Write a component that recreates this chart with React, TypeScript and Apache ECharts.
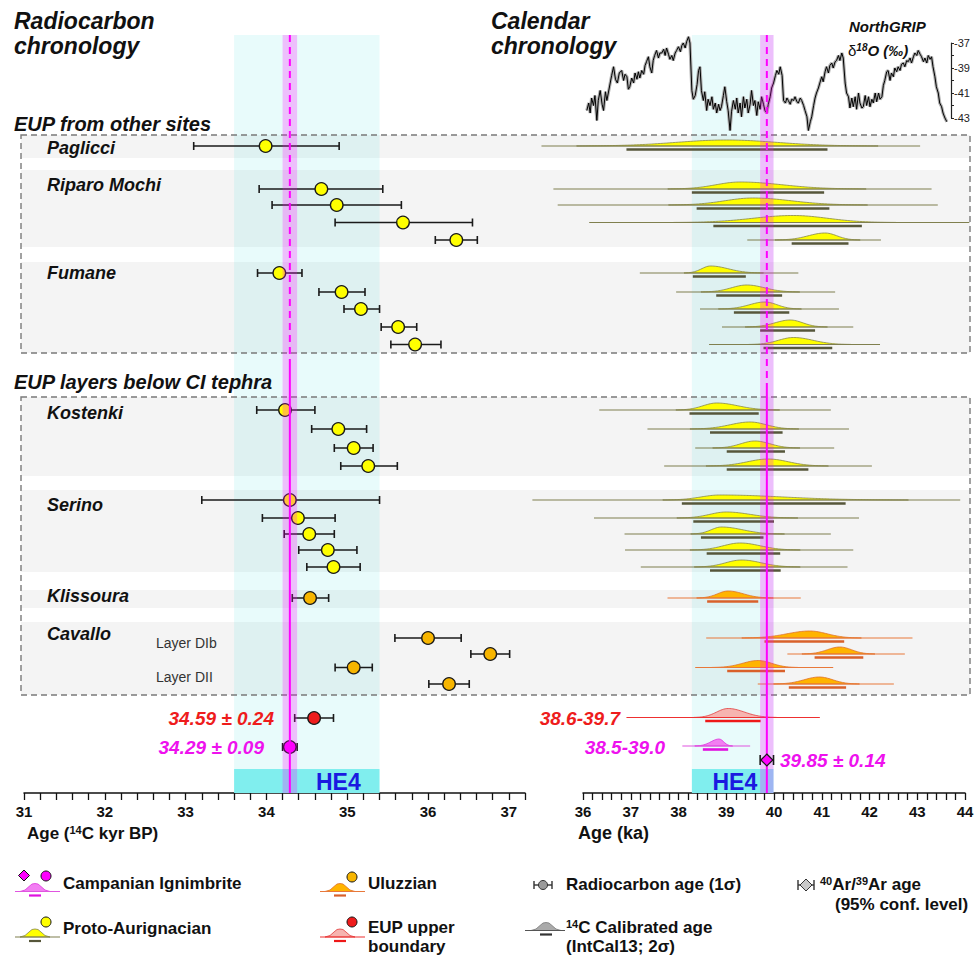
import React, { useEffect, useRef } from 'react';
import * as echarts from 'echarts';

const FONT = '"Liberation Sans", Arial, Helvetica, sans-serif';

// ---------------- Sites / sections ----------------
const sectionNames = ['EUP from other sites', 'EUP layers below CI tephra'];
const sectionTop = [135, 397];
const sectionBottom = [353, 695];
const sectionLabelY = [123.5, 381.5];

const siteNames = ['Paglicci', 'Riparo Mochi', 'Fumane', 'Kostenki', 'Serino', 'Klissoura', 'Cavallo'];
const siteBandTop = [135, 170, 262, 397, 490, 590, 622];
const siteBandBottom = [158, 247, 353, 476, 572, 608, 695];
const siteLabelY = [148, 185, 273, 413, 505, 596, 634];

const layerNames = ['Layer DIb', 'Layer DII'];
const layerLabelY = [643, 677];

// culture index: 0 Proto-Aurignacian, 1 Uluzzian, 2 EUP upper boundary, 3 Campanian Ignimbrite
const cultureNames = ['Proto-Aurignacian', 'Uluzzian', 'EUP upper boundary', 'Campanian Ignimbrite'];
const sampleCulture = [0, 0, 0, 0, 0, 0, 0, 0, 0, 0, 0, 0, 0, 0, 0, 0, 0, 0, 0, 1, 1, 1, 1, 1];
const sampleRow = [146, 189, 205, 222.5, 240, 273, 292, 309, 327, 344.5, 410, 429, 448, 466, 500, 518, 534, 550, 567, 598, 638, 654, 667.5, 684];

// ---------------- Radiocarbon ages (14C kyr BP, 1 sigma) ----------------
const rcMean = [33.99, 34.68, 34.87, 35.69, 36.35, 34.16, 34.93, 35.17, 35.63, 35.84, 34.23, 34.89, 35.08, 35.26, 34.29, 34.39, 34.53, 34.76, 34.83, 34.54, 36.0, 36.77, 35.08, 36.26];
const rcLow = [33.10, 33.91, 34.07, 34.85, 36.09, 33.89, 34.65, 34.96, 35.42, 35.54, 33.88, 34.56, 34.84, 34.92, 33.20, 33.95, 34.22, 34.40, 34.50, 34.32, 35.59, 36.53, 34.85, 36.01];
const rcHigh = [34.90, 35.44, 35.67, 36.55, 36.61, 34.44, 35.22, 35.40, 35.86, 36.16, 34.60, 35.24, 35.32, 35.62, 35.40, 34.85, 34.84, 35.12, 35.16, 34.77, 36.41, 37.01, 35.31, 36.51];

// ---------------- Calibrated ages (ka, IntCal13) ----------------
const calRangeLo = [35.13, 35.38, 35.47, 36.13, 39.44, 37.19, 37.95, 38.45, 38.91, 38.64, 36.34, 37.35, 38.35, 37.70, 34.94, 36.23, 36.87, 36.88, 37.21, 37.77, 38.58, 40.28, 38.35, 39.66];
const calRangeHi = [43.06, 43.30, 43.43, 44.09, 42.24, 40.51, 41.28, 41.36, 41.66, 42.22, 41.19, 41.57, 41.26, 42.05, 43.90, 41.78, 41.19, 41.66, 41.54, 40.56, 42.90, 42.74, 41.24, 42.51];
const cal2sLo = [36.91, 38.28, 38.38, 38.73, 40.37, 38.30, 38.79, 39.16, 39.71, 39.78, 38.23, 38.66, 39.01, 39.01, 38.07, 38.31, 38.47, 38.59, 38.66, 38.60, 39.80, 40.85, 39.02, 40.31];
const cal2sHi = [41.12, 41.05, 41.16, 41.84, 41.56, 39.41, 40.17, 40.32, 40.86, 41.22, 39.68, 40.18, 40.23, 40.72, 41.50, 40.00, 39.78, 40.13, 40.14, 39.67, 41.47, 41.87, 40.23, 41.51];
const calMode = [39.0, 39.29, 39.56, 40.40, 41.07, 38.67, 39.43, 39.81, 40.34, 40.41, 38.80, 39.50, 39.60, 39.88, 38.87, 39.0, 38.90, 39.29, 39.32, 39.04, 40.75, 41.38, 39.67, 40.95];
const calPeakHeight = [6, 7, 7, 7, 7, 7, 7, 7, 7, 7, 7, 7, 7, 7, 5, 6, 7, 7, 7, 7, 7, 7, 7, 7];

// ---------------- EUP upper boundary & Campanian Ignimbrite ----------------
const eupRc = [34.59, 0.24];           // mean, sd (14C kyr BP)
const eupCal = [36.91, 40.96, 38.56, 39.72, 39.04]; // range lo/hi, 2s lo/hi, mode (ka)
const eupRow = 718;
const ciRc = [34.29, 0.09];
const ciCal = [38.08, 39.50, 38.51, 39.04, 38.85];
const ciRow = 747;
const ciArAr = [39.85, 0.14];          // 40Ar/39Ar age (ka), 95% conf.
const ciArArRow = 760;

// ---------------- Heinrich Event 4 ----------------
const he4Radiocarbon = [33.6, 35.4];
const he4Calendar = [38.28, 39.99];
const he4LabelPos = [34.89, 39.18];

// ---------------- NorthGRIP d18O record: [age ka, d18O permil] ----------------
const ngripGI8 = [
  [36.08, -42.4], [36.12, -41.8], [36.15, -42.6], [36.18, -41.4], [36.22, -42.0], [36.25, -41.2], [36.29, -43.2], [36.32, -41.6],
  [36.36, -40.8], [36.40, -41.9], [36.43, -42.4], [36.47, -40.9], [36.50, -41.6], [36.53, -41.0], [36.57, -40.2], [36.60, -39.6],
  [36.64, -38.9], [36.68, -39.9], [36.72, -40.2], [36.76, -39.4], [36.81, -39.2], [36.85, -40.0], [36.88, -39.5], [36.92, -39.7],
  [36.95, -40.7], [36.98, -40.5], [37.02, -39.8], [37.06, -40.2], [37.09, -39.4], [37.13, -39.9], [37.16, -39.3], [37.19, -39.8],
  [37.23, -39.2], [37.27, -39.5], [37.30, -38.8], [37.33, -38.5], [37.37, -38.1], [37.40, -38.9], [37.44, -39.4], [37.47, -38.4],
  [37.50, -38.0], [37.54, -37.6], [37.58, -38.2], [37.61, -37.8], [37.65, -37.8], [37.69, -37.5], [37.72, -38.0], [37.75, -37.4],
  [37.79, -37.9], [37.82, -38.3], [37.86, -38.0], [37.89, -38.4], [37.93, -37.8], [37.96, -37.6], [38.00, -37.3], [38.04, -37.7],
  [38.07, -37.2], [38.10, -37.0], [38.14, -37.4], [38.17, -36.9], [38.21, -36.5], [38.24, -37.0],
];
const ngripGS9 = [
  [38.28, -40.8], [38.31, -41.5], [38.35, -41.2], [38.39, -40.3], [38.42, -39.2], [38.45, -38.9], [38.48, -40.8], [38.52, -41.6],
  [38.55, -40.9], [38.59, -42.4], [38.62, -41.5], [38.66, -42.0], [38.70, -41.3], [38.73, -42.3], [38.77, -41.8], [38.80, -42.6],
  [38.84, -41.9], [38.87, -42.4], [38.90, -42.1], [38.94, -41.2], [38.97, -40.5], [39.01, -41.7], [39.04, -42.4], [39.08, -44.0],
  [39.11, -42.5], [39.15, -41.6], [39.19, -42.3], [39.22, -41.4], [39.25, -42.6], [39.29, -41.8], [39.32, -42.9], [39.36, -41.3],
  [39.39, -42.2], [39.43, -41.5], [39.46, -42.6], [39.50, -41.9], [39.53, -40.8], [39.57, -42.0], [39.60, -41.6], [39.64, -42.8],
  [39.67, -41.7], [39.71, -42.3], [39.74, -41.3], [39.78, -41.9], [39.81, -42.4], [39.85, -42.6], [39.88, -41.9], [39.92, -41.3],
  [39.95, -40.6], [39.99, -40.2],
];
const ngripGI9toGI10 = [
  [40.03, -39.6], [40.06, -39.2], [40.10, -39.5], [40.13, -38.9], [40.17, -39.6], [40.20, -41.6], [40.24, -41.8], [40.27, -41.4],
  [40.30, -41.6], [40.34, -41.9], [40.37, -41.5], [40.41, -41.6], [40.44, -41.3], [40.48, -41.7], [40.51, -41.8], [40.55, -41.4],
  [40.58, -41.6], [40.62, -42.0], [40.65, -42.4], [40.69, -42.9], [40.72, -44.0], [40.76, -43.3], [40.79, -42.9], [40.83, -42.0],
  [40.86, -41.4], [40.89, -41.0], [40.93, -40.6], [40.96, -40.2], [41.00, -39.7], [41.03, -40.1], [41.07, -39.3], [41.10, -38.9],
  [41.14, -39.4], [41.17, -38.8], [41.21, -38.6], [41.24, -39.0], [41.28, -38.5], [41.31, -38.4], [41.35, -38.0], [41.38, -38.4],
  [41.42, -37.8], [41.45, -38.2], [41.49, -40.2],
];
const ngripGS10toEnd = [
  [41.52, -41.0], [41.56, -41.3], [41.59, -42.2], [41.63, -41.4], [41.66, -42.1], [41.70, -41.3], [41.73, -42.3], [41.77, -41.0],
  [41.80, -41.8], [41.84, -42.2], [41.87, -42.1], [41.91, -41.2], [41.94, -42.0], [41.98, -41.3], [42.01, -42.1], [42.05, -41.5],
  [42.08, -41.8], [42.12, -41.0], [42.15, -41.7], [42.19, -41.0], [42.22, -41.5], [42.26, -41.3], [42.29, -40.4], [42.32, -40.0],
  [42.36, -39.3], [42.39, -39.2], [42.43, -40.0], [42.46, -39.4], [42.50, -39.7], [42.53, -39.0], [42.57, -39.3], [42.60, -38.9],
  [42.64, -39.2], [42.67, -38.7], [42.71, -38.6], [42.74, -38.9], [42.78, -38.4], [42.81, -38.5], [42.85, -38.2], [42.88, -38.6],
  [42.92, -38.1], [42.95, -37.8], [42.99, -38.0], [43.02, -37.6], [43.06, -37.9], [43.09, -38.1], [43.13, -38.5], [43.16, -38.2],
  [43.20, -38.6], [43.23, -38.0], [43.27, -38.3], [43.30, -38.1], [43.33, -38.9], [43.37, -39.7], [43.40, -40.5], [43.44, -41.0],
  [43.47, -41.8], [43.51, -42.1], [43.54, -42.6], [43.58, -43.0], [43.62, -43.3],
];

// ---------------- styles ----------------
const cultureStyle = [
  { dot: '#ffff00', fill: '#ffff00', edge: '#85854a', line: '#7f7f4e', bar: '#56563a' },
  { dot: '#f7b500', fill: '#ffb400', edge: '#e0702a', line: '#e8783a', bar: '#d9602a' },
  { dot: '#ee1c1c', fill: '#f6b4b0', edge: '#e23a3a', line: '#ee3030', bar: '#ee1818' },
  { dot: '#ff00ff', fill: '#f27ef2', edge: '#dd33dd', line: '#e055e0', bar: '#e010e0' },
];
const BOX_L = 21;
const BOX_R = 970;
const BAND_TOP = 35;
const HE4_TOP = 769;
const AXIS_Y = 793;
const RED = '#ee1c1c';
const MAG = '#ee11ee';

const intLabel = (v: number) => (Math.abs(v - Math.round(v)) < 1e-6 ? String(Math.round(v)) : '');

function errRender(params: any, api: any) {
  const y = api.value(3);
  const m = api.coord([api.value(0), y]);
  const lo = api.coord([api.value(1), y]);
  const hi = api.coord([api.value(2), y]);
  const st = cultureStyle[api.value(4)];
  const s = { stroke: '#1a1a1a', lineWidth: 1.6 };
  return {
    type: 'group',
    children: [
      { type: 'line', shape: { x1: lo[0], y1: m[1], x2: hi[0], y2: m[1] }, style: s },
      { type: 'line', shape: { x1: lo[0], y1: m[1] - 4, x2: lo[0], y2: m[1] + 4 }, style: s },
      { type: 'line', shape: { x1: hi[0], y1: m[1] - 4, x2: hi[0], y2: m[1] + 4 }, style: s },
      { type: 'circle', shape: { cx: m[0], cy: m[1], r: 6.3 }, style: { fill: st.dot, stroke: '#1a1a1a', lineWidth: 1.3 } },
    ],
  };
}

function distRender(params: any, api: any) {
  const row = api.value(5);
  const st = cultureStyle[api.value(6)];
  const H = api.value(7);
  const a = api.coord([api.value(0), row]);
  const b = api.coord([api.value(1), row]);
  const c = api.coord([api.value(2), row]);
  const d = api.coord([api.value(3), row]);
  const pk = api.coord([api.value(4), row]);
  const y = a[1];
  const sL = Math.max((pk[0] - c[0]) / 2, 2);
  const sR = Math.max((d[0] - pk[0]) / 2, 2);
  const x0 = Math.max(a[0], pk[0] - 3 * sL);
  const x1 = Math.min(b[0], pk[0] + 3 * sR);
  const pts: number[][] = [[x0, y]];
  for (let x = x0; x <= x1; x += 1.5) {
    const s = x < pk[0] ? sL : sR;
    const t = (x - pk[0]) / s;
    pts.push([x, y - H * Math.exp(-0.5 * t * t)]);
  }
  pts.push([x1, y]);
  return {
    type: 'group',
    children: [
      { type: 'polygon', shape: { points: pts }, style: { fill: st.fill, stroke: st.edge, lineWidth: 0.8 } },
      { type: 'line', shape: { x1: a[0], y1: y, x2: b[0], y2: y }, style: { stroke: st.line, lineWidth: 1.2 } },
      { type: 'line', shape: { x1: c[0], y1: y + 3.5, x2: d[0], y2: y + 3.5 }, style: { stroke: st.bar, lineWidth: 2.6 } },
    ],
  };
}

function bandRender(params: any, api: any) {
  const t = api.coord([31, api.value(0)])[1];
  const b = api.coord([31, api.value(1)])[1];
  return { type: 'rect', shape: { x: BOX_L, y: t, width: BOX_R - BOX_L, height: b - t }, style: { fill: '#f4f4f4' } };
}

function boxRender(params: any, api: any) {
  const t = api.coord([31, api.value(0)])[1];
  const b = api.coord([31, api.value(1)])[1];
  return {
    type: 'rect',
    shape: { x: BOX_L, y: t, width: BOX_R - BOX_L, height: b - t },
    style: { fill: 'none', stroke: '#7a7a7a', lineWidth: 1.4, lineDash: [6, 4] },
  };
}

function he4Render(params: any, api: any) {
  const p0 = api.coord([api.value(0), BAND_TOP]);
  const p1 = api.coord([api.value(1), HE4_TOP]);
  const p2 = api.coord([api.value(1), AXIS_Y]);
  const lab = api.coord([api.value(2), (HE4_TOP + AXIS_Y) / 2]);
  return {
    type: 'group',
    children: [
      { type: 'rect', shape: { x: p0[0], y: p0[1], width: p1[0] - p0[0], height: p1[1] - p0[1] }, style: { fill: 'rgba(64,224,224,0.12)' } },
      { type: 'rect', shape: { x: p0[0], y: p1[1], width: p1[0] - p0[0], height: p2[1] - p1[1] }, style: { fill: '#80eeee' } },
      {
        type: 'text', x: lab[0], y: lab[1] + 1,
        style: { text: 'HE4', fill: '#1a1ae0', fontFamily: FONT, fontSize: 23, fontWeight: 'bold', align: 'center', verticalAlign: 'middle', textAlign: 'center', textVerticalAlign: 'middle' },
      },
    ],
  };
}

const ciRender = (splitY: number) => (params: any, api: any) => {
  const m = api.value(0);
  const e = api.value(1);
  const tl = api.coord([m - e, BAND_TOP]);
  const br = api.coord([m + e, AXIS_Y]);
  const c1 = api.coord([m, BAND_TOP]);
  const c2 = api.coord([m, splitY]);
  const c3 = api.coord([m, AXIS_Y]);
  return {
    type: 'group',
    children: [
      { type: 'rect', shape: { x: tl[0], y: tl[1], width: br[0] - tl[0], height: br[1] - tl[1] }, style: { fill: 'rgba(255,0,255,0.24)' } },
      { type: 'line', shape: { x1: c1[0], y1: c1[1], x2: c2[0], y2: c2[1] }, style: { stroke: '#ff00ff', lineWidth: 2, lineDash: [7, 5] } },
      { type: 'line', shape: { x1: c2[0], y1: c2[1], x2: c3[0], y2: c3[1] }, style: { stroke: '#ff00ff', lineWidth: 2 } },
    ],
  };
};

function diamondRender(params: any, api: any) {
  const row = api.value(2);
  const m = api.coord([api.value(0), row]);
  const lo = api.coord([api.value(0) - api.value(1), row]);
  const hi = api.coord([api.value(0) + api.value(1), row]);
  const s = { stroke: '#1a1a1a', lineWidth: 1.6 };
  return {
    type: 'group',
    children: [
      { type: 'line', shape: { x1: lo[0], y1: m[1], x2: hi[0], y2: m[1] }, style: s },
      { type: 'line', shape: { x1: lo[0], y1: m[1] - 5, x2: lo[0], y2: m[1] + 5 }, style: s },
      { type: 'line', shape: { x1: hi[0], y1: m[1] - 5, x2: hi[0], y2: m[1] + 5 }, style: s },
      { type: 'polygon', shape: { points: [[m[0], m[1] - 6], [m[0] + 6, m[1]], [m[0], m[1] + 6], [m[0] - 6, m[1]]] }, style: { fill: '#ff00ff', stroke: '#1a1a1a', lineWidth: 1.2 } },
    ],
  };
}

function txt(text: string, x: number, y: number, o: any = {}) {
  const align = o.align || 'left';
  const style: any = {
    text,
    fill: o.fill || '#111',
    fontFamily: FONT,
    fontSize: o.size || 17,
    fontWeight: o.weight || 'bold',
    fontStyle: o.style || 'normal',
    align, textAlign: align,
    verticalAlign: 'middle', textVerticalAlign: 'middle',
  };
  if (o.rich) style.rich = o.rich;
  return { type: 'text', x, y, z: 100, silent: true, style };
}

function legendBell(cx: number, by: number, st: any, l = 20, r = 25) {
  const pts = [[cx - 15, by], [cx - 10, by - 1.5], [cx - 6, by - 5], [cx - 3, by - 7.5], [cx, by - 8], [cx + 3, by - 7.5], [cx + 6, by - 5], [cx + 10, by - 1.5], [cx + 15, by]];
  return [
    { type: 'polygon', z: 100, shape: { points: pts }, style: { fill: st.fill, stroke: st.edge, lineWidth: 0.8 } },
    { type: 'line', z: 100, shape: { x1: cx - l, y1: by, x2: cx + r, y2: by }, style: { stroke: st.line, lineWidth: 1.2 } },
    { type: 'line', z: 100, shape: { x1: cx - 6, y1: by + 4, x2: cx + 6, y2: by + 4 }, style: { stroke: st.bar, lineWidth: 2.2 } },
  ];
}
const legendDot = (cx: number, cy: number, fill: string) => ({ type: 'circle', z: 100, shape: { cx, cy, r: 5 }, style: { fill, stroke: '#111', lineWidth: 1 } });

function buildOption(): any {
  const errData: number[][] = rcMean.map((m, i) => [m, rcLow[i], rcHigh[i], sampleRow[i], sampleCulture[i]]);
  errData.push([eupRc[0], eupRc[0] - eupRc[1], eupRc[0] + eupRc[1], eupRow, 2]);
  errData.push([ciRc[0], ciRc[0] - ciRc[1], ciRc[0] + ciRc[1], ciRow, 3]);

  const distData: number[][] = calMode.map((m, i) => [calRangeLo[i], calRangeHi[i], cal2sLo[i], cal2sHi[i], m, sampleRow[i], sampleCulture[i], calPeakHeight[i]]);
  distData.push([eupCal[0], eupCal[1], eupCal[2], eupCal[3], eupCal[4], eupRow - 0.5, 2, 9]);
  distData.push([ciCal[0], ciCal[1], ciCal[2], ciCal[3], ciCal[4], ciRow - 1, 3, 7]);

  const bands = siteBandTop.map((t, i) => [t, siteBandBottom[i]]);
  const boxes = sectionTop.map((t, i) => [t, sectionBottom[i]]);
  const ngrip = [...ngripGI8, ...ngripGS9, ...ngripGI9toGI10, ...ngripGS10toEnd];

  const axisCommon = (gi: number, min: number, max: number) => ({
    gridIndex: gi, type: 'value', min, max, interval: 0.2,
    axisLine: { show: true, onZero: false, lineStyle: { color: '#111', width: 1.5 } },
    axisTick: { show: true, length: 7, lineStyle: { color: '#111', width: 1.3 } },
    axisLabel: { interval: 0, formatter: intLabel, fontFamily: FONT, fontWeight: 'bold', fontSize: 15, color: '#111', margin: 11 },
    splitLine: { show: false },
  });

  const sup = { fontSize: 11, fontWeight: 'bold', fontFamily: FONT, verticalAlign: 'top', fill: '#111', color: '#111' };
  const graphics: any[] = [];
  graphics.push(txt('Radiocarbon', 14, 21, { size: 23, style: 'italic' }));
  graphics.push(txt('chronology', 14, 46, { size: 23, style: 'italic' }));
  graphics.push(txt('Calendar', 491, 21, { size: 23, style: 'italic' }));
  graphics.push(txt('chronology', 491, 46, { size: 23, style: 'italic' }));
  graphics.push(txt('NorthGRIP', 849, 26, { size: 15, style: 'italic' }));
  graphics.push(txt('{d|δ}{s|18}{b|O (‰)}', 848, 50, {
    rich: {
      d: { fontSize: 15, fontFamily: FONT, fill: '#111', color: '#111' },
      s: { fontSize: 10, fontFamily: FONT, fontWeight: 'bold', fontStyle: 'italic', verticalAlign: 'top', fill: '#111', color: '#111' },
      b: { fontSize: 15, fontFamily: FONT, fontWeight: 'bold', fontStyle: 'italic', fill: '#111', color: '#111' },
    },
  }));
  sectionNames.forEach((n, i) => graphics.push(txt(n, 14, sectionLabelY[i], { size: 20, style: 'italic' })));
  siteNames.forEach((n, i) => graphics.push(txt(n, 47, siteLabelY[i], { size: 18, style: 'italic' })));
  layerNames.forEach((n, i) => graphics.push(txt(n, 156, layerLabelY[i], { size: 14, weight: 'normal', fill: '#333' })));

  graphics.push(txt(`${eupRc[0].toFixed(2)} ± ${eupRc[1].toFixed(2)}`, 274, eupRow, { size: 19, style: 'italic', fill: RED, align: 'right' }));
  graphics.push(txt(`${ciRc[0].toFixed(2)} ± ${ciRc[1].toFixed(2)}`, 264, ciRow, { size: 19, style: 'italic', fill: MAG, align: 'right' }));
  graphics.push(txt(`${eupCal[2].toFixed(1)}-${eupCal[3].toFixed(1)}`, 620, eupRow, { size: 19, style: 'italic', fill: RED, align: 'right' }));
  graphics.push(txt(`${ciCal[2].toFixed(1)}-${ciCal[3].toFixed(1)}`, 665, ciRow, { size: 19, style: 'italic', fill: MAG, align: 'right' }));
  graphics.push(txt(`${ciArAr[0].toFixed(2)} ± ${ciArAr[1].toFixed(2)}`, 780, ciArArRow, { size: 19, style: 'italic', fill: MAG }));

  graphics.push(txt('Age ({s|14}C kyr BP)', 27, 833, { size: 17, rich: { s: sup } }));
  graphics.push(txt('Age (ka)', 578, 833, { size: 18 }));

  // legend
  graphics.push({ type: 'polygon', z: 100, shape: { points: [[24, 870], [29.5, 875.5], [24, 881], [18.5, 875.5]] }, style: { fill: '#ff00ff', stroke: '#111', lineWidth: 1 } });
  graphics.push(legendDot(46, 876, cultureStyle[3].dot));
  legendBell(35, 891.5, cultureStyle[3]).forEach((g) => graphics.push(g));
  graphics.push(txt(cultureNames[3], 63, 883));

  graphics.push(legendDot(46, 922, cultureStyle[0].dot));
  legendBell(35, 937, cultureStyle[0]).forEach((g) => graphics.push(g));
  graphics.push(txt(cultureNames[0], 63, 928));

  graphics.push(legendDot(352, 877, cultureStyle[1].dot));
  legendBell(340, 891.5, cultureStyle[1]).forEach((g) => graphics.push(g));
  graphics.push(txt(cultureNames[1], 368, 883));

  graphics.push(legendDot(352, 922, cultureStyle[2].dot));
  legendBell(340, 937, cultureStyle[2]).forEach((g) => graphics.push(g));
  graphics.push(txt('EUP upper', 368, 927));
  graphics.push(txt('boundary', 368, 946));

  const ls = { stroke: '#333', lineWidth: 1.4 };
  graphics.push({ type: 'line', z: 100, shape: { x1: 534, y1: 885, x2: 552, y2: 885 }, style: ls });
  graphics.push({ type: 'line', z: 100, shape: { x1: 534, y1: 881, x2: 534, y2: 889 }, style: ls });
  graphics.push({ type: 'line', z: 100, shape: { x1: 552, y1: 881, x2: 552, y2: 889 }, style: ls });
  graphics.push({ type: 'circle', z: 100, shape: { cx: 543, cy: 885, r: 4.5 }, style: { fill: '#9a9a9a', stroke: '#333', lineWidth: 1 } });
  graphics.push(txt('Radiocarbon age (1σ)', 566, 884));

  legendBell(546, 930.5, { fill: '#aaaaaa', edge: '#777', line: '#555', bar: '#333' }, 21, 19).forEach((g) => graphics.push(g));
  graphics.push(txt('{s|14}C Calibrated age', 566, 927, { rich: { s: sup } }));
  graphics.push(txt('(IntCal13; 2σ)', 566, 946));

  graphics.push({ type: 'line', z: 100, shape: { x1: 798, y1: 885, x2: 814, y2: 885 }, style: ls });
  graphics.push({ type: 'line', z: 100, shape: { x1: 798, y1: 880, x2: 798, y2: 890 }, style: ls });
  graphics.push({ type: 'line', z: 100, shape: { x1: 814, y1: 880, x2: 814, y2: 890 }, style: ls });
  graphics.push({ type: 'polygon', z: 100, shape: { points: [[806, 879], [812, 885], [806, 891], [800, 885]] }, style: { fill: '#c8c8c8', stroke: '#333', lineWidth: 1 } });
  graphics.push(txt('{s|40}Ar/{s|39}Ar age', 820, 884, { rich: { s: sup } }));
  graphics.push(txt('(95% conf. level)', 835, 904));

  return {
    animation: false,
    backgroundColor: '#fff',
    grid: [
      { left: 24, top: 0, width: 501, height: AXIS_Y },
      { left: 583, top: 0, width: 382, height: AXIS_Y },
      { left: 583, top: 43, width: 382, height: 75 },
    ],
    xAxis: [
      axisCommon(0, 31, 37.2),
      axisCommon(1, 36, 44),
      { gridIndex: 2, type: 'value', min: 36, max: 44, show: false },
    ],
    yAxis: [
      { gridIndex: 0, type: 'value', min: 0, max: AXIS_Y, inverse: true, show: false },
      { gridIndex: 1, type: 'value', min: 0, max: AXIS_Y, inverse: true, show: false },
      {
        gridIndex: 2, type: 'value', min: -43, max: -37, interval: 1, position: 'right', offset: -14,
        axisLine: { show: true, lineStyle: { color: '#222', width: 1.2 } },
        axisTick: { show: true, length: 3, lineStyle: { color: '#222' } },
        axisLabel: { formatter: (v: number) => (Math.abs(Math.round(v)) % 2 === 1 ? String(Math.round(v)) : ''), interval: 0, fontSize: 11, color: '#222', fontFamily: FONT, margin: 3 },
        splitLine: { show: false },
      },
    ],
    graphic: { elements: graphics },
    series: [
      { type: 'custom', xAxisIndex: 0, yAxisIndex: 0, z: 1, silent: true, data: bands, renderItem: bandRender },
      { type: 'custom', xAxisIndex: 0, yAxisIndex: 0, z: 2, silent: true, data: [[he4Radiocarbon[0], he4Radiocarbon[1], he4LabelPos[0]]], renderItem: he4Render },
      { type: 'custom', xAxisIndex: 1, yAxisIndex: 1, z: 2, silent: true, data: [[he4Calendar[0], he4Calendar[1], he4LabelPos[1]]], renderItem: he4Render },
      { type: 'custom', xAxisIndex: 0, yAxisIndex: 0, z: 3, silent: true, data: boxes, renderItem: boxRender },
      { type: 'line', xAxisIndex: 2, yAxisIndex: 2, z: 3, silent: true, clip: false, symbol: 'none', data: ngrip, lineStyle: { color: '#b0b0b0', width: 3.2 } },
      { type: 'line', xAxisIndex: 2, yAxisIndex: 2, z: 4, silent: true, clip: false, symbol: 'none', data: ngrip, lineStyle: { color: '#000', width: 1 } },
      { type: 'custom', xAxisIndex: 1, yAxisIndex: 1, z: 4, silent: true, data: distData, renderItem: distRender },
      { type: 'custom', xAxisIndex: 0, yAxisIndex: 0, z: 5, silent: true, data: errData, renderItem: errRender },
      { type: 'custom', xAxisIndex: 0, yAxisIndex: 0, z: 6, silent: true, data: [[ciRc[0], ciRc[1]]], renderItem: ciRender(366) },
      { type: 'custom', xAxisIndex: 1, yAxisIndex: 1, z: 6, silent: true, data: [[ciArAr[0], ciArAr[1]]], renderItem: ciRender(388) },
      { type: 'custom', xAxisIndex: 1, yAxisIndex: 1, z: 7, silent: true, data: [[ciArAr[0], ciArAr[1], ciArArRow]], renderItem: diamondRender },
    ],
  };
}

export default function App() {
  const ref = useRef<HTMLDivElement>(null);
  useEffect(() => {
    const chart = echarts.init(ref.current as HTMLDivElement, null, { renderer: 'svg' });
    chart.setOption(buildOption());
    return () => chart.dispose();
  }, []);
  return <div ref={ref} style={{ position: 'absolute', left: 0, top: 0, width: 978, height: 957 }} />;
}
